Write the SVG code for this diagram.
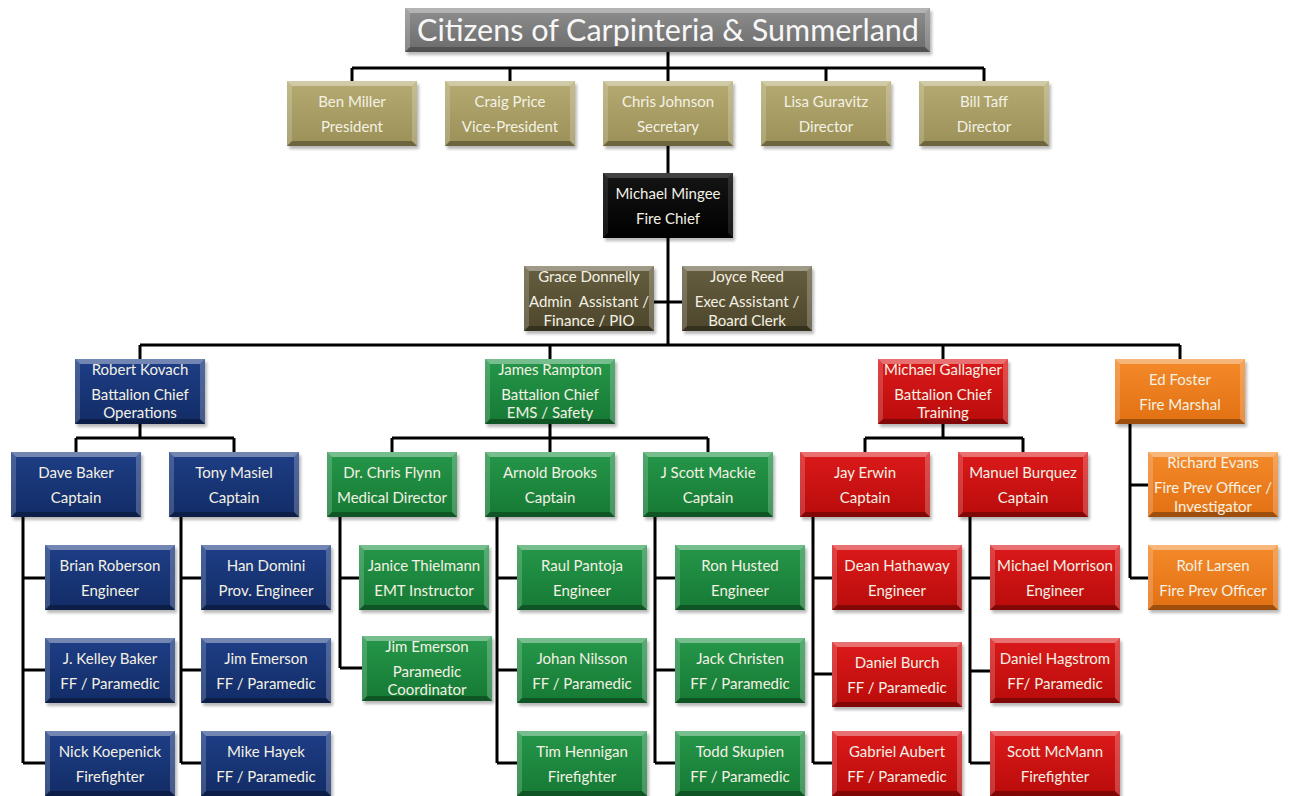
<svg xmlns="http://www.w3.org/2000/svg" xmlns:xlink="http://www.w3.org/1999/xlink" width="1290" height="796" viewBox="0 0 1290 796">
<style>
.bg{fill:#ffffff}
.conn{fill:none;stroke:#000;stroke-width:3}
.shadow{fill:#000;opacity:.28;filter:url(#blur)}
.t{font-family:Lato,"Open Sans","Liberation Sans",sans-serif;font-size:15px;fill:#f4f1e4;text-anchor:middle;white-space:pre}
.title{font-family:Lato,"Open Sans","Liberation Sans",sans-serif;font-size:30.5px;fill:#f7f7f7;text-anchor:middle}
.board{fill:url(#gBoard)}
.chief{fill:url(#gChief)}
.admin{fill:url(#gAdmin)}
.blue{fill:url(#gBlue)}
.green{fill:url(#gGreen)}
.red{fill:url(#gRed)}
.orange{fill:url(#gOrange)}
.grey{fill:url(#gGrey)}
</style>
<defs>
<filter id="blur" x="-10%" y="-10%" width="120%" height="130%"><feGaussianBlur stdDeviation="1.5"/></filter>
<linearGradient id="gBoard" x1="0" y1="0" x2="0" y2="1"><stop offset="0" stop-color="#b5ab72"/><stop offset="1" stop-color="#9a9058"/></linearGradient>
<linearGradient id="gChief" x1="0" y1="0" x2="0" y2="1"><stop offset="0" stop-color="#151515"/><stop offset="1" stop-color="#000"/></linearGradient>
<linearGradient id="gAdmin" x1="0" y1="0" x2="0" y2="1"><stop offset="0" stop-color="#665e3f"/><stop offset="1" stop-color="#4d462c"/></linearGradient>
<linearGradient id="gBlue" x1="0" y1="0" x2="0" y2="1"><stop offset="0" stop-color="#1e3e86"/><stop offset="1" stop-color="#122c66"/></linearGradient>
<linearGradient id="gGreen" x1="0" y1="0" x2="0" y2="1"><stop offset="0" stop-color="#25974a"/><stop offset="1" stop-color="#167934"/></linearGradient>
<linearGradient id="gRed" x1="0" y1="0" x2="0" y2="1"><stop offset="0" stop-color="#dc1a1a"/><stop offset="1" stop-color="#b90b0b"/></linearGradient>
<linearGradient id="gOrange" x1="0" y1="0" x2="0" y2="1"><stop offset="0" stop-color="#f48a2a"/><stop offset="1" stop-color="#e27012"/></linearGradient>
<linearGradient id="gGrey" x1="0" y1="0" x2="0" y2="1"><stop offset="0" stop-color="#8e8e8e"/><stop offset="1" stop-color="#6b6b6b"/></linearGradient>
<g id="bevel">
<polygon points="0,0 130,0 125,5 5,5" fill="#fff" opacity=".38"/>
<polygon points="0,0 5,5 5,60 0,65" fill="#fff" opacity=".18"/>
<polygon points="130,0 130,65 125,60 125,5" fill="#fff" opacity=".22"/>
<polygon points="0,65 5,60 125,60 130,65" fill="#000" opacity=".3"/>
</g>
<rect id="sh" x="2" y="3" width="130" height="65" rx="1"/>
</defs>
<rect class="bg" x="0" y="0" width="1290" height="796"/>

<g id="connectors">
<path class="conn" d="M668,52V81 M352,68H984 M352,68V81 M510,68V81 M826,68V81 M984,68V81"/>
<path class="conn" d="M668,146V173 M668,238V345 M654,302H682"/>
<path class="conn" d="M140,345H1180 M140,345V359 M550,345V359 M943,345V359 M1180,345V359"/>
<path class="conn" d="M140,424V438 M76,438H234 M76,438V452 M234,438V452"/>
<path class="conn" d="M550,424V452 M392,438H708 M392,438V452 M708,438V452"/>
<path class="conn" d="M943,424V438 M865,438H1023 M865,438V452 M1023,438V452"/>
<path class="conn" d="M1130,424V578 M1130,485H1148 M1130,578H1148"/>
<path class="conn" d="M23,517V763 M23,578H45 M23,670H45 M23,763H45"/>
<path class="conn" d="M181,517V763 M181,578H201 M181,670H201 M181,763H201"/>
<path class="conn" d="M340,517V668 M340,578H359 M340,668H362"/>
<path class="conn" d="M497,517V763 M497,578H517 M497,670H517 M497,763H517"/>
<path class="conn" d="M655,517V763 M655,578H675 M655,670H675 M655,763H675"/>
<path class="conn" d="M813,517V763 M813,578H832 M813,674H832 M813,763H832"/>
<path class="conn" d="M970,517V763 M970,578H990 M970,671H990 M970,763H990"/>
</g>

<g id="n-title">
<rect class="shadow" x="407" y="11" width="525" height="44"/>
<rect class="grey" x="405" y="8" width="525" height="44"/>
<polygon points="405,8 930,8 925,13 410,13" fill="#fff" opacity=".35"/>
<polygon points="405,8 410,13 410,47 405,52" fill="#fff" opacity=".2"/>
<polygon points="930,8 930,52 925,47 925,13" fill="#fff" opacity=".2"/>
<polygon points="405,52 410,47 925,47 930,52" fill="#000" opacity=".25"/>
<text class="title" x="668" y="41">Citizens of Carpinteria &amp; Summerland</text>
</g>

<g id="n-ben"><use href="#sh" class="shadow" x="287" y="81"/><rect class="board" x="287" y="81" width="130" height="65"/><use href="#bevel" x="287" y="81"/><text class="t" x="352" y="107">Ben Miller</text><text class="t" x="352" y="132">President</text></g>
<g id="n-craig"><use href="#sh" class="shadow" x="445" y="81"/><rect class="board" x="445" y="81" width="130" height="65"/><use href="#bevel" x="445" y="81"/><text class="t" x="510" y="107">Craig Price</text><text class="t" x="510" y="132">Vice-President</text></g>
<g id="n-chris"><use href="#sh" class="shadow" x="603" y="81"/><rect class="board" x="603" y="81" width="130" height="65"/><use href="#bevel" x="603" y="81"/><text class="t" x="668" y="107">Chris Johnson</text><text class="t" x="668" y="132">Secretary</text></g>
<g id="n-lisa"><use href="#sh" class="shadow" x="761" y="81"/><rect class="board" x="761" y="81" width="130" height="65"/><use href="#bevel" x="761" y="81"/><text class="t" x="826" y="107">Lisa Guravitz</text><text class="t" x="826" y="132">Director</text></g>
<g id="n-bill"><use href="#sh" class="shadow" x="919" y="81"/><rect class="board" x="919" y="81" width="130" height="65"/><use href="#bevel" x="919" y="81"/><text class="t" x="984" y="107">Bill Taff</text><text class="t" x="984" y="132">Director</text></g>

<g id="n-chief"><use href="#sh" class="shadow" x="603" y="173"/><rect class="chief" x="603" y="173" width="130" height="65"/><use href="#bevel" x="603" y="173" opacity=".5"/><text class="t" x="668" y="199">Michael Mingee</text><text class="t" x="668" y="224">Fire Chief</text></g>

<g id="n-grace"><use href="#sh" class="shadow" x="524" y="266"/><rect class="admin" x="524" y="266" width="130" height="65"/><use href="#bevel" x="524" y="266"/><text class="t" x="589" y="282">Grace Donnelly</text><text class="t" x="589" y="307">Admin  Assistant /</text><text class="t" x="589" y="326">Finance / PIO</text></g>
<g id="n-joyce"><use href="#sh" class="shadow" x="682" y="266"/><rect class="admin" x="682" y="266" width="130" height="65"/><use href="#bevel" x="682" y="266"/><text class="t" x="747" y="282">Joyce Reed</text><text class="t" x="747" y="307">Exec Assistant /</text><text class="t" x="747" y="326">Board Clerk</text></g>

<g id="n-kovach"><use href="#sh" class="shadow" x="75" y="359"/><rect class="blue" x="75" y="359" width="130" height="65"/><use href="#bevel" x="75" y="359"/><text class="t" x="140" y="375">Robert Kovach</text><text class="t" x="140" y="400">Battalion Chief</text><text class="t" x="140" y="418">Operations</text></g>
<g id="n-rampton"><use href="#sh" class="shadow" x="485" y="359"/><rect class="green" x="485" y="359" width="130" height="65"/><use href="#bevel" x="485" y="359"/><text class="t" x="550" y="375">James Rampton</text><text class="t" x="550" y="400">Battalion Chief</text><text class="t" x="550" y="418">EMS / Safety</text></g>
<g id="n-gallagher"><use href="#sh" class="shadow" x="878" y="359"/><rect class="red" x="878" y="359" width="130" height="65"/><use href="#bevel" x="878" y="359"/><text class="t" x="943" y="375">Michael Gallagher</text><text class="t" x="943" y="400">Battalion Chief</text><text class="t" x="943" y="418">Training</text></g>
<g id="n-foster"><use href="#sh" class="shadow" x="1115" y="359"/><rect class="orange" x="1115" y="359" width="130" height="65"/><use href="#bevel" x="1115" y="359"/><text class="t" x="1180" y="385">Ed Foster</text><text class="t" x="1180" y="410">Fire Marshal</text></g>

<g id="n-davebaker"><use href="#sh" class="shadow" x="11" y="452"/><rect class="blue" x="11" y="452" width="130" height="65"/><use href="#bevel" x="11" y="452"/><text class="t" x="76" y="478">Dave Baker</text><text class="t" x="76" y="503">Captain</text></g>
<g id="n-tony"><use href="#sh" class="shadow" x="169" y="452"/><rect class="blue" x="169" y="452" width="130" height="65"/><use href="#bevel" x="169" y="452"/><text class="t" x="234" y="478">Tony Masiel</text><text class="t" x="234" y="503">Captain</text></g>
<g id="n-flynn"><use href="#sh" class="shadow" x="327" y="452"/><rect class="green" x="327" y="452" width="130" height="65"/><use href="#bevel" x="327" y="452"/><text class="t" x="392" y="478">Dr. Chris Flynn</text><text class="t" x="392" y="503">Medical Director</text></g>
<g id="n-brooks"><use href="#sh" class="shadow" x="485" y="452"/><rect class="green" x="485" y="452" width="130" height="65"/><use href="#bevel" x="485" y="452"/><text class="t" x="550" y="478">Arnold Brooks</text><text class="t" x="550" y="503">Captain</text></g>
<g id="n-mackie"><use href="#sh" class="shadow" x="643" y="452"/><rect class="green" x="643" y="452" width="130" height="65"/><use href="#bevel" x="643" y="452"/><text class="t" x="708" y="478">J Scott Mackie</text><text class="t" x="708" y="503">Captain</text></g>
<g id="n-erwin"><use href="#sh" class="shadow" x="800" y="452"/><rect class="red" x="800" y="452" width="130" height="65"/><use href="#bevel" x="800" y="452"/><text class="t" x="865" y="478">Jay Erwin</text><text class="t" x="865" y="503">Captain</text></g>
<g id="n-burquez"><use href="#sh" class="shadow" x="958" y="452"/><rect class="red" x="958" y="452" width="130" height="65"/><use href="#bevel" x="958" y="452"/><text class="t" x="1023" y="478">Manuel Burquez</text><text class="t" x="1023" y="503">Captain</text></g>
<g id="n-evans"><use href="#sh" class="shadow" x="1148" y="452"/><rect class="orange" x="1148" y="452" width="130" height="65"/><use href="#bevel" x="1148" y="452"/><text class="t" x="1213" y="468">Richard Evans</text><text class="t" x="1213" y="493">Fire Prev Officer /</text><text class="t" x="1213" y="512">Investigator</text></g>

<g id="n-roberson"><use href="#sh" class="shadow" x="45" y="545"/><rect class="blue" x="45" y="545" width="130" height="65"/><use href="#bevel" x="45" y="545"/><text class="t" x="110" y="571">Brian Roberson</text><text class="t" x="110" y="596">Engineer</text></g>
<g id="n-kbaker"><use href="#sh" class="shadow" x="45" y="638"/><rect class="blue" x="45" y="638" width="130" height="65"/><use href="#bevel" x="45" y="638"/><text class="t" x="110" y="664">J. Kelley Baker</text><text class="t" x="110" y="689">FF / Paramedic</text></g>
<g id="n-koepenick"><use href="#sh" class="shadow" x="45" y="731"/><rect class="blue" x="45" y="731" width="130" height="65"/><use href="#bevel" x="45" y="731"/><text class="t" x="110" y="757">Nick Koepenick</text><text class="t" x="110" y="782">Firefighter</text></g>
<g id="n-domini"><use href="#sh" class="shadow" x="201" y="545"/><rect class="blue" x="201" y="545" width="130" height="65"/><use href="#bevel" x="201" y="545"/><text class="t" x="266" y="571">Han Domini</text><text class="t" x="266" y="596">Prov. Engineer</text></g>
<g id="n-emerson1"><use href="#sh" class="shadow" x="201" y="638"/><rect class="blue" x="201" y="638" width="130" height="65"/><use href="#bevel" x="201" y="638"/><text class="t" x="266" y="664">Jim Emerson</text><text class="t" x="266" y="689">FF / Paramedic</text></g>
<g id="n-hayek"><use href="#sh" class="shadow" x="201" y="731"/><rect class="blue" x="201" y="731" width="130" height="65"/><use href="#bevel" x="201" y="731"/><text class="t" x="266" y="757">Mike Hayek</text><text class="t" x="266" y="782">FF / Paramedic</text></g>

<g id="n-thielmann"><use href="#sh" class="shadow" x="359" y="545"/><rect class="green" x="359" y="545" width="130" height="65"/><use href="#bevel" x="359" y="545"/><text class="t" x="424" y="571">Janice Thielmann</text><text class="t" x="424" y="596">EMT Instructor</text></g>
<g id="n-emerson2"><use href="#sh" class="shadow" x="362" y="636"/><rect class="green" x="362" y="636" width="130" height="65"/><use href="#bevel" x="362" y="636"/><text class="t" x="427" y="652">Jim Emerson</text><text class="t" x="427" y="677">Paramedic</text><text class="t" x="427" y="695">Coordinator</text></g>
<g id="n-pantoja"><use href="#sh" class="shadow" x="517" y="545"/><rect class="green" x="517" y="545" width="130" height="65"/><use href="#bevel" x="517" y="545"/><text class="t" x="582" y="571">Raul Pantoja</text><text class="t" x="582" y="596">Engineer</text></g>
<g id="n-nilsson"><use href="#sh" class="shadow" x="517" y="638"/><rect class="green" x="517" y="638" width="130" height="65"/><use href="#bevel" x="517" y="638"/><text class="t" x="582" y="664">Johan Nilsson</text><text class="t" x="582" y="689">FF / Paramedic</text></g>
<g id="n-hennigan"><use href="#sh" class="shadow" x="517" y="731"/><rect class="green" x="517" y="731" width="130" height="65"/><use href="#bevel" x="517" y="731"/><text class="t" x="582" y="757">Tim Hennigan</text><text class="t" x="582" y="782">Firefighter</text></g>
<g id="n-husted"><use href="#sh" class="shadow" x="675" y="545"/><rect class="green" x="675" y="545" width="130" height="65"/><use href="#bevel" x="675" y="545"/><text class="t" x="740" y="571">Ron Husted</text><text class="t" x="740" y="596">Engineer</text></g>
<g id="n-christen"><use href="#sh" class="shadow" x="675" y="638"/><rect class="green" x="675" y="638" width="130" height="65"/><use href="#bevel" x="675" y="638"/><text class="t" x="740" y="664">Jack Christen</text><text class="t" x="740" y="689">FF / Paramedic</text></g>
<g id="n-skupien"><use href="#sh" class="shadow" x="675" y="731"/><rect class="green" x="675" y="731" width="130" height="65"/><use href="#bevel" x="675" y="731"/><text class="t" x="740" y="757">Todd Skupien</text><text class="t" x="740" y="782">FF / Paramedic</text></g>

<g id="n-hathaway"><use href="#sh" class="shadow" x="832" y="545"/><rect class="red" x="832" y="545" width="130" height="65"/><use href="#bevel" x="832" y="545"/><text class="t" x="897" y="571">Dean Hathaway</text><text class="t" x="897" y="596">Engineer</text></g>
<g id="n-burch"><use href="#sh" class="shadow" x="832" y="642"/><rect class="red" x="832" y="642" width="130" height="65"/><use href="#bevel" x="832" y="642"/><text class="t" x="897" y="668">Daniel Burch</text><text class="t" x="897" y="693">FF / Paramedic</text></g>
<g id="n-aubert"><use href="#sh" class="shadow" x="832" y="731"/><rect class="red" x="832" y="731" width="130" height="65"/><use href="#bevel" x="832" y="731"/><text class="t" x="897" y="757">Gabriel Aubert</text><text class="t" x="897" y="782">FF / Paramedic</text></g>
<g id="n-morrison"><use href="#sh" class="shadow" x="990" y="545"/><rect class="red" x="990" y="545" width="130" height="65"/><use href="#bevel" x="990" y="545"/><text class="t" x="1055" y="571">Michael Morrison</text><text class="t" x="1055" y="596">Engineer</text></g>
<g id="n-hagstrom"><use href="#sh" class="shadow" x="990" y="638"/><rect class="red" x="990" y="638" width="130" height="65"/><use href="#bevel" x="990" y="638"/><text class="t" x="1055" y="664">Daniel Hagstrom</text><text class="t" x="1055" y="689">FF/ Paramedic</text></g>
<g id="n-mcmann"><use href="#sh" class="shadow" x="990" y="731"/><rect class="red" x="990" y="731" width="130" height="65"/><use href="#bevel" x="990" y="731"/><text class="t" x="1055" y="757">Scott McMann</text><text class="t" x="1055" y="782">Firefighter</text></g>

<g id="n-larsen"><use href="#sh" class="shadow" x="1148" y="545"/><rect class="orange" x="1148" y="545" width="130" height="65"/><use href="#bevel" x="1148" y="545"/><text class="t" x="1213" y="571">Rolf Larsen</text><text class="t" x="1213" y="596">Fire Prev Officer</text></g>
</svg>
